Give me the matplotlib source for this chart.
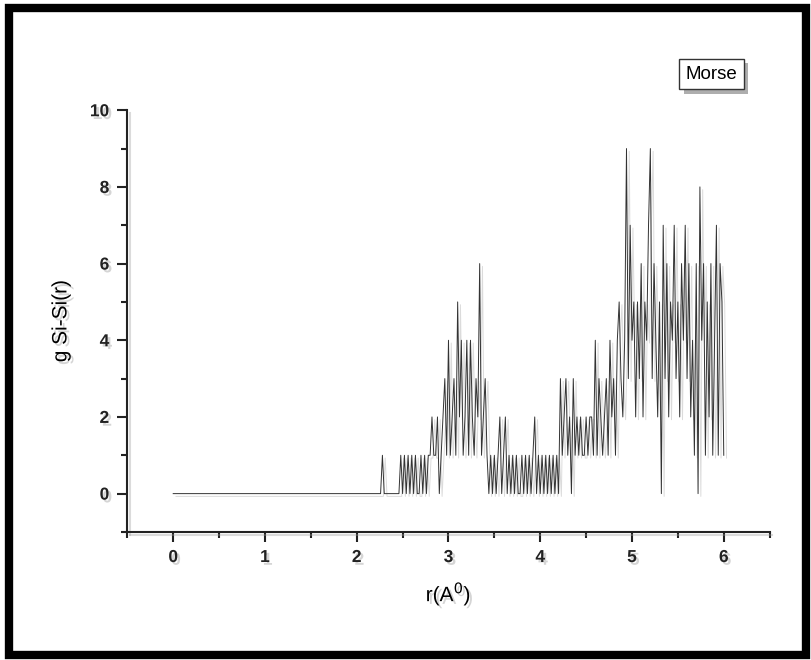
import numpy as np
import matplotlib
matplotlib.use("Agg")
import matplotlib.pyplot as plt
import matplotlib.patheffects as pe
from matplotlib.patches import Rectangle

plt.rcParams['font.family'] = ['Liberation Sans', 'DejaVu Sans']

# g(r) sampled every 0.02 A; flat zero from 0 to 2.18
r = np.round(np.arange(0, 6.001, 0.02), 2)
g_zero = [0] * 110
g_tail = [
    0, 0, 0, 0, 1, 0, 0, 0, 0, 0,   # 2.20 - 2.38
    0, 0, 0, 0, 1, 0, 1, 0, 1, 0,   # 2.40 - 2.58
    1, 0, 1, 0, 0, 1, 0, 1, 0, 1,   # 2.60 - 2.78
    1, 2, 1, 1, 2, 0, 1, 2, 3, 1,   # 2.80 - 2.98
    4, 1, 2, 3, 1, 5, 2, 4, 1, 2,   # 3.00 - 3.18
    4, 1, 4, 2, 1, 3, 2, 6, 1, 2,   # 3.20 - 3.38
    3, 1, 0, 1, 0, 1, 0, 1, 2, 0,   # 3.40 - 3.58
    1, 2, 0, 1, 0, 1, 0, 1, 0, 0,   # 3.60 - 3.78
    1, 0, 1, 0, 1, 0, 1, 2, 0, 1,   # 3.80 - 3.98
    0, 1, 0, 1, 0, 1, 0, 1, 0, 1,   # 4.00 - 4.18
    0, 3, 1, 2, 3, 1, 2, 0, 3, 1,   # 4.20 - 4.38
    2, 1, 2, 1, 1, 2, 1, 2, 2, 1,   # 4.40 - 4.58
    4, 1, 3, 2, 1, 2, 3, 1, 4, 2,   # 4.60 - 4.78
    3, 1, 4, 5, 3, 2, 4, 9, 3, 7,   # 4.80 - 4.98
    4, 5, 2, 5, 3, 6, 2, 5, 4, 7,   # 5.00 - 5.18
    9, 3, 6, 4, 2, 5, 0, 7, 3, 6,   # 5.20 - 5.38
    2, 5, 4, 7, 3, 5, 2, 6, 4, 7,   # 5.40 - 5.58
    3, 6, 2, 4, 1, 6, 0, 8, 4, 6,   # 5.60 - 5.78
    1, 5, 2, 6, 1, 4, 7, 1, 6, 5,   # 5.80 - 5.98
    1,                              # 6.00
]
g = g_zero + g_tail

x_ticks = [0, 1, 2, 3, 4, 5, 6]
y_ticks = [0, 2, 4, 6, 8, 10]

shadow_txt = [pe.SimplePatchShadow(offset=(2, -2), shadow_rgbFace='#888888', alpha=0.35), pe.Normal()]
shadow_line = [pe.SimpleLineShadow(offset=(2, -2), shadow_color='#999999', alpha=0.35), pe.Normal()]

fig = plt.figure(figsize=(8.11, 6.60), dpi=100)
ax = fig.add_axes([0.157, 0.194, 0.792, 0.639])

ax.plot(r, g, color='#333333', lw=0.7, path_effects=shadow_line)

ax.set_xlim(-0.5, 6.5)
ax.set_ylim(-1, 10)
ax.set_xticks(x_ticks)
ax.set_yticks(y_ticks)
ax.set_xticks(np.arange(-0.5, 6.6, 0.5), minor=True)
ax.set_yticks(np.arange(-1, 10.1, 1), minor=True)

for s in ['top', 'right']:
    ax.spines[s].set_visible(False)
for s in ['left', 'bottom']:
    ax.spines[s].set_linewidth(1.5)
    ax.spines[s].set_color('#222222')
    ax.spines[s].set_path_effects(shadow_line)

ax.tick_params(which='major', direction='out', length=7, width=1.5, labelsize=12.5, pad=6, color='#222222')
ax.tick_params(which='minor', direction='out', length=4, width=1.5, color='#222222')
for lab in ax.get_xticklabels() + ax.get_yticklabels():
    lab.set_fontweight('bold')
    lab.set_color('#222222')
    lab.set_path_effects(shadow_txt)

ax.set_xlabel('r(A$^0$)', fontsize=15, labelpad=10, path_effects=shadow_txt)
ax.set_ylabel('g Si-Si(r)', fontsize=15, labelpad=14, path_effects=shadow_txt)

ax.text(0.91, 1.085, 'Morse', transform=ax.transAxes, fontsize=13.5, ha='center', va='center',
        bbox=dict(boxstyle='square,pad=0.35', fc='white', ec='#333333', lw=1,
                  path_effects=[pe.SimplePatchShadow(offset=(3, -3), alpha=0.45), pe.Normal()]))

# thick black frame around the whole picture
W, H = 811.0, 660.0
fig.patches.append(Rectangle((9 / W, 5 / H), (806 - 9) / W, (652 - 5) / H,
                             transform=fig.transFigure, fill=False, ec='black', lw=6))

fig.savefig('out.png', dpi=100)
